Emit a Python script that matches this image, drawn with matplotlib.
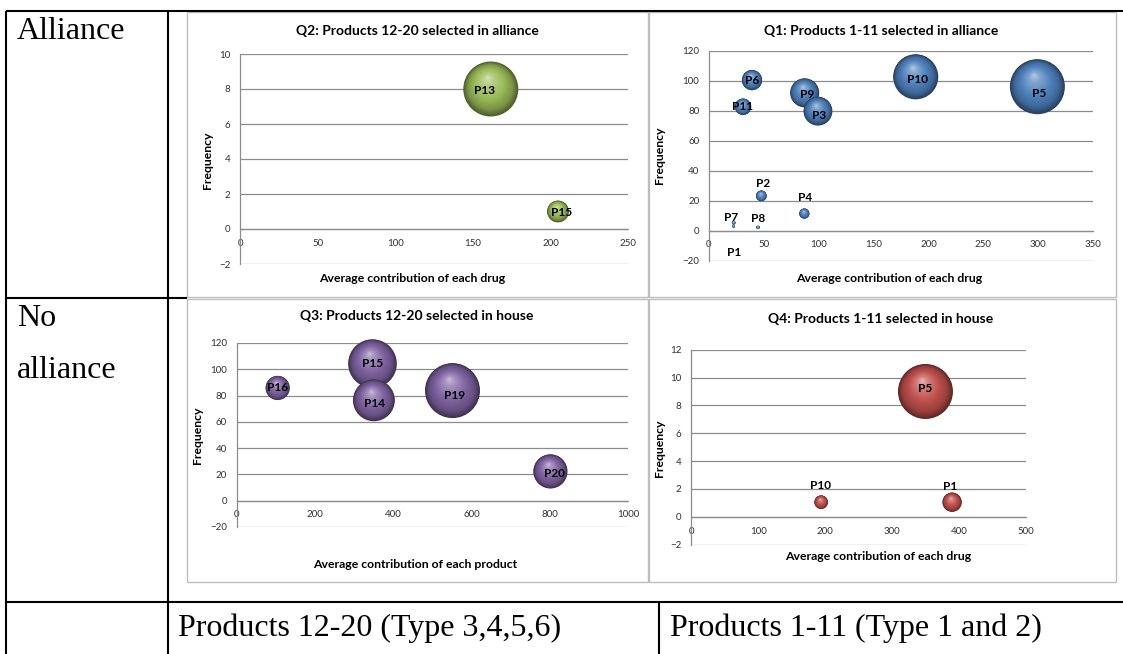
import numpy as np
import matplotlib
matplotlib.use("Agg")
import matplotlib.pyplot as plt
from matplotlib.patches import Circle, Rectangle
from matplotlib.lines import Line2D
from matplotlib import transforms
from matplotlib.colors import to_rgb

# ---------------------------------------------------------------- data
# Q1: products 1-11 selected in alliance
q1_names = ["P1", "P2", "P3", "P4", "P5", "P6", "P7", "P8", "P9", "P10", "P11"]
q1_contrib = [22.5, 47.7, 99.3, 86.9, 299.3, 39.2, 22.5, 44.7, 87.2, 188.4, 31.0]
q1_freq = [2.9, 23.2, 79.7, 11.4, 96.0, 100.4, 5.3, 2.2, 91.9, 102.6, 82.6]
q1_bubble = [65, 1100, 7900, 990, 28700, 3900, 120, 100, 8000, 19300, 2600]

# Q2: products 12-20 selected in alliance
q2_names = ["P13", "P15"]
q2_contrib = [161.6, 204.9]
q2_freq = [8.0, 1.0]
q2_bubble = [1300, 205]

# Q3: products 12-20 selected in house
q3_names = ["P14", "P15", "P16", "P19", "P20"]
q3_contrib = [350.6, 347.0, 104.7, 551.5, 801.7]
q3_freq = [76.4, 104.3, 85.8, 83.8, 22.3]
q3_bubble = [26800, 36200, 9000, 46200, 17900]

# Q4: products 1-11 selected in house
q4_names = ["P1", "P5", "P10"]
q4_contrib = [389.6, 349.8, 194.0]
q4_freq = [1.05, 9.0, 1.05]
q4_bubble = [390, 3150, 194]

row_titles = ["Alliance", "No", "alliance"]
col_titles = ["Products 12-20 (Type 3,4,5,6)", "Products 1-11 (Type 1 and 2)"]

# ---------------------------------------------------------------- layout
W, H, DPI = 1123, 654, 100
fig = plt.figure(figsize=(W / DPI, H / DPI), dpi=DPI)
fig.patch.set_facecolor("white")

SANS = ["Lato", "DejaVu Sans"]
SERIF = ["Liberation Serif", "DejaVu Serif"]


def fx(x):
    return x / W


def fy(y):
    return 1 - y / H


def hline(y, x0, x1, lw=1.5, color="black", z=5):
    fig.add_artist(Line2D([fx(x0), fx(x1)], [fy(y), fy(y)], lw=lw, color=color,
                          transform=fig.transFigure, zorder=z, solid_capstyle="butt"))


def vline(x, y0, y1, lw=1.5, color="black", z=5):
    fig.add_artist(Line2D([fx(x), fx(x)], [fy(y0), fy(y1)], lw=lw, color=color,
                          transform=fig.transFigure, zorder=z, solid_capstyle="butt"))


# table grid
hline(11, 6, 1123)
hline(298, 6, 187)
hline(602, 6, 1123)
vline(6, 11, 654)
vline(168, 11, 654)
vline(659, 602, 654)

fig.text(fx(17), fy(39), row_titles[0], family=SERIF, fontsize=23, va="baseline", ha="left")
fig.text(fx(17), fy(326), row_titles[1], family=SERIF, fontsize=23, va="baseline", ha="left")
fig.text(fx(17), fy(378), row_titles[2], family=SERIF, fontsize=23, va="baseline", ha="left")
fig.text(fx(178), fy(636), col_titles[0], family=SERIF, fontsize=23, va="baseline", ha="left")
fig.text(fx(670), fy(636), col_titles[1], family=SERIF, fontsize=23, va="baseline", ha="left")


def mix(c1, c2, t):
    a, b = np.array(to_rgb(c1)), np.array(to_rgb(c2))
    return tuple(a + (b - a) * t)


def sphere_color(base, t):
    dark = mix(base, "black", 0.5)
    light = mix(base, "white", 0.6)
    stops = [(0.0, dark), (0.18, mix(base, "black", 0.2)), (0.45, to_rgb(base)),
             (0.8, mix(base, "white", 0.3)), (1.0, light)]
    for (t0, c0), (t1, c1) in zip(stops[:-1], stops[1:]):
        if t <= t1:
            return mix(c0, c1, (t - t0) / (t1 - t0))
    return stops[-1][1]


def draw_bubbles(ax, xs, ys, sizes, names, base, offsets, dmax_px=55):
    smax = max(sizes)
    order = np.argsort(sizes)[::-1]
    for i in order:
        r_in = dmax_px / 2 * np.sqrt(sizes[i] / smax) / DPI
        trans = fig.dpi_scale_trans + transforms.ScaledTranslation(xs[i], ys[i], ax.transData)
        n = 36
        hx, hy = -0.12, 0.42
        for k in range(n):
            t = k / n
            f = 1 - t
            c = Circle((hx * t * r_in, hy * t * r_in), f * r_in, transform=trans,
                       facecolor=sphere_color(base, t), edgecolor="none",
                       clip_on=False, zorder=3)
            ax.add_artist(c)
    for i in range(len(xs)):
        dx, dy = offsets.get(names[i], (0, 0))
        ax.annotate(names[i], (xs[i], ys[i]), xytext=(dx * 0.72, dy * 0.72),
                    textcoords="offset points", ha="center", va="center",
                    family=SANS, fontsize=8.5, fontweight="bold", color="black",
                    zorder=10, annotation_clip=False)


GRID = "#8c8c8c"


def make_chart(box, plot, title, title_xy, xlabel, xlabel_xy, ylabel_xy,
               xlim, xstep, ylim, ystep):
    bx0, by0, bx1, by1 = box
    fig.add_artist(Rectangle((fx(bx0), fy(by1)), fx(bx1 - bx0), (by1 - by0) / H,
                             transform=fig.transFigure, facecolor="white",
                             edgecolor="#bdbdbd", lw=1.0, zorder=1))
    px0, py0, px1, py1 = plot
    ax = fig.add_axes([fx(px0), fy(py1), fx(px1 - px0), (py1 - py0) / H])
    ax.set_zorder(2)
    ax.patch.set_alpha(0)
    ax.set_xlim(*xlim)
    ax.set_ylim(*ylim)
    ax.set_xticks(np.arange(xlim[0], xlim[1] + xstep / 2, xstep))
    ax.set_yticks(np.arange(ylim[0], ylim[1] + ystep / 2, ystep))
    ax.grid(axis="y", color=GRID, lw=0.9)
    ax.set_axisbelow(True)
    for s in ["top", "right"]:
        ax.spines[s].set_visible(False)
    ax.spines["bottom"].set_position(("data", 0))
    ax.spines["bottom"].set_color(GRID)
    ax.spines["bottom"].set_linewidth(0.9)
    ax.spines["left"].set_color(GRID)
    ax.spines["left"].set_linewidth(0.9)
    ax.tick_params(length=0, labelsize=7, labelcolor="#303030")
    ax.tick_params(axis="x", pad=7.0)
    ax.tick_params(axis="y", pad=7)
    for lab in ax.get_xticklabels() + ax.get_yticklabels():
        lab.set_family(SANS)
    fig.text(fx(title_xy[0]), fy(title_xy[1]), title, ha="center", va="center",
             family=SANS, fontsize=10, fontweight="bold", color="black", zorder=6)
    fig.text(fx(xlabel_xy[0]), fy(xlabel_xy[1]), xlabel, ha="center", va="center",
             family=SANS, fontsize=8.8, fontweight="bold", color="black", zorder=6)
    fig.text(fx(ylabel_xy[0]), fy(ylabel_xy[1]), "Frequency", ha="center", va="center",
             rotation=90, family=SANS, fontsize=8.8, fontweight="bold", color="black", zorder=6)
    return ax


# Q2 (top left)
ax2 = make_chart((187, 12, 648, 297), (240, 54, 628, 264),
                 "Q2: Products 12-20 selected in alliance", (417, 31),
                 "Average contribution of each drug", (412, 279), (208, 160),
                 (0, 250), 50, (-2, 10), 2)
draw_bubbles(ax2, q2_contrib, q2_freq, q2_bubble, q2_names, "#9BBB59",
             {"P13": (-6, -1), "P15": (4, -1)})

# Q1 (top right)
ax1 = make_chart((649, 12, 1116, 297), (709, 50.7, 1093, 260.7),
                 "Q1: Products 1-11 selected in alliance", (881, 31),
                 "Average contribution of each drug", (889, 278), (660, 155),
                 (0, 350), 50, (-20, 120), 20)
draw_bubbles(ax1, q1_contrib, q1_freq, q1_bubble, q1_names, "#4F81BD",
             {"P1": (0, -26), "P2": (2, 12), "P4": (1, 16), "P7": (-3, 5),
              "P8": (0, 9), "P9": (2, -2), "P3": (1, -4), "P10": (2, -3),
              "P5": (2, -7)})

# Q3 (bottom left)
ax3 = make_chart((187, 299, 648, 582), (236.7, 343, 628, 527),
                 "Q3: Products 12-20 selected in house", (417, 316),
                 "Average contribution of each product", (415, 565), (198, 435),
                 (0, 1000), 200, (-20, 120), 20)
draw_bubbles(ax3, q3_contrib, q3_freq, q3_bubble, q3_names, "#8064A2",
             {"P14": (1, -3), "P19": (2, -5), "P20": (4, -2)})

# Q4 (bottom right)
ax4 = make_chart((649, 299, 1116, 582), (691.3, 349.7, 1026, 544.7),
                 "Q4: Products 1-11 selected in house", (881, 319),
                 "Average contribution of each drug", (878, 556), (660, 448),
                 (0, 500), 100, (-2, 12), 2)
draw_bubbles(ax4, q4_contrib, q4_freq, q4_bubble, q4_names, "#C0504D",
             {"P10": (-1, 17), "P1": (-2, 16), "P5": (0, 3)})

fig.savefig("out.png", dpi=DPI, facecolor="white")
